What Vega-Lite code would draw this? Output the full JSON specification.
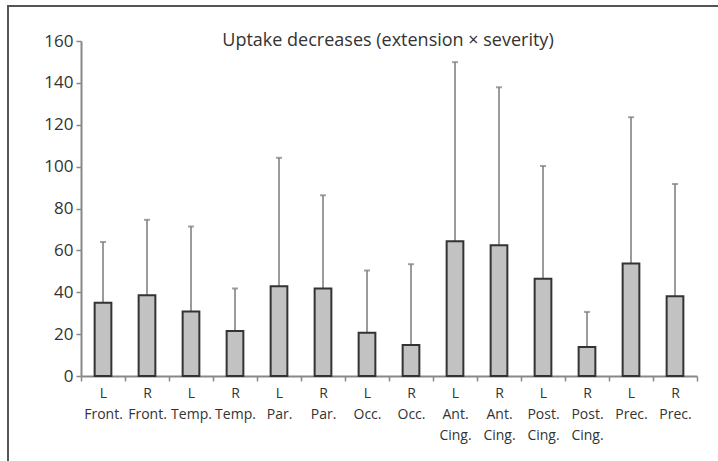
{
  "$schema": "https://vega.github.io/schema/vega-lite/v6.json",
  "width": 720,
  "height": 470,
  "autosize": {"type": "none"},
  "padding": {"left": 8, "top": 6, "right": 0, "bottom": 0},
  "background": "white",
  "config": {"view": {"stroke": "#555", "strokeWidth": 2}},
  "title": {
    "text": "Uptake decreases (extension × severity)",
    "anchor": "middle",
    "frame": "group",
    "dx": 20,
    "offset": -58,
    "baseline": "alphabetic",
    "font": "Open Sans",
    "fontSize": 18,
    "fontWeight": "normal",
    "color": "#333"
  },
  "data": {
    "values": [
      {"region": "L|Front.", "mean": 35.0, "upper": 64.0},
      {"region": "R|Front.", "mean": 38.6, "upper": 74.6},
      {"region": "L|Temp.", "mean": 30.8, "upper": 71.4},
      {"region": "R|Temp.", "mean": 21.5, "upper": 41.8},
      {"region": "L|Par.", "mean": 42.9, "upper": 104.2},
      {"region": "R|Par.", "mean": 41.8, "upper": 86.3},
      {"region": "L|Occ.", "mean": 20.7, "upper": 50.4},
      {"region": "R|Occ.", "mean": 14.8, "upper": 53.4},
      {"region": "L|Ant.|Cing.", "mean": 64.4, "upper": 149.9},
      {"region": "R|Ant.|Cing.", "mean": 62.5, "upper": 137.9},
      {"region": "L|Post.|Cing.", "mean": 46.4, "upper": 100.3},
      {"region": "R|Post.|Cing.", "mean": 13.9, "upper": 30.6},
      {"region": "L|Prec.", "mean": 53.7, "upper": 123.6},
      {"region": "R|Prec.", "mean": 38.1, "upper": 91.7}
    ]
  },
  "encoding": {
    "x": {
      "field": "region",
      "type": "nominal",
      "sort": null,
      "scale": {"range": [73, 689], "paddingInner": 0, "paddingOuter": 0},
      "axis": {
        "title": null,
        "labelExpr": "split(datum.label, '|')",
        "labelAngle": 0,
        "tickBand": "extent",
        "labelFont": "Open Sans",
        "labelFontSize": 14,
        "labelColor": "#333",
        "labelLineHeight": 21,
        "labelPadding": 5,
        "domainColor": "#888",
        "domainWidth": 2,
        "tickColor": "#888",
        "tickWidth": 1.5,
        "tickSize": 5,
        "offset": -100,
        "labelOverlap": false
      }
    }
  },
  "layer": [
    {
      "mark": {"type": "rule", "color": "#7a7a7a", "strokeWidth": 1.5},
      "encoding": {
        "y": {
          "field": "mean",
          "type": "quantitative",
          "scale": {"domain": [0, 160], "range": [370, 35], "nice": false},
          "axis": {
            "title": null,
            "values": [0, 20, 40, 60, 80, 100, 120, 140, 160],
            "offset": -73,
            "grid": false,
            "labelFont": "Open Sans",
            "labelFontSize": 17,
            "labelColor": "#333",
            "labelPadding": 3,
            "domainColor": "#888",
            "domainWidth": 2,
            "tickColor": "#888",
            "tickWidth": 1.5,
            "tickSize": 5
          }
        },
        "y2": {"field": "upper"}
      }
    },
    {
      "mark": {"type": "tick", "color": "#7a7a7a", "size": 6, "thickness": 2},
      "encoding": {"y": {"field": "upper", "type": "quantitative"}}
    },
    {
      "mark": {"type": "bar", "fill": "#c2c2c2", "stroke": "#333", "strokeWidth": 2, "width": {"band": 0.38}},
      "encoding": {"y": {"field": "mean", "type": "quantitative"}}
    }
  ]
}
